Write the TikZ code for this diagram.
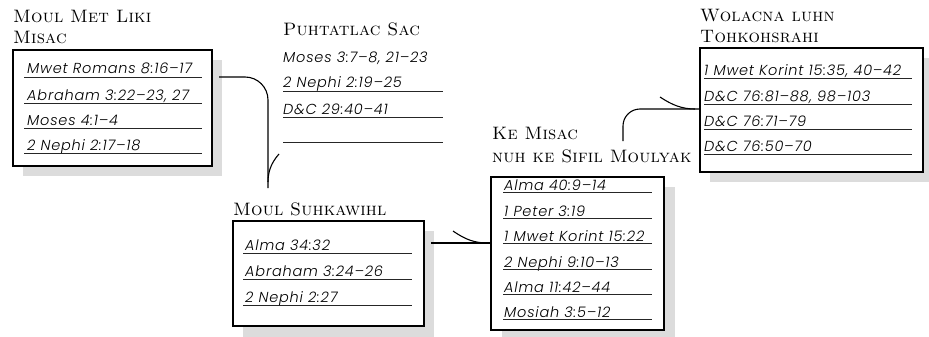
\documentclass[tikz,border=0pt]{standalone}
\usepackage{fontspec}
\newfontfamily\hand{Poppins Light}[ItalicFont={Poppins Light Italic}, LetterSpace=5.5]
\newfontfamily\titlefont{Latin Modern Roman}[SmallCapsFont={Latin Modern Roman Caps}, SmallCapsFeatures={LetterSpace=1}]
\definecolor{shadowgray}{HTML}{DCDCDC}
\tikzset{
  frame/.style={draw, line width=1.1pt, fill=white, inner sep=0pt},
  shade/.style={fill=shadowgray},
  title/.style={anchor=base west, inner sep=0pt, font=\fontsize{18}{21}\selectfont\titlefont\scshape, align=left},
  item/.style={anchor=base west, inner sep=0pt, font=\fontsize{14.5}{17}\selectfont\hand\itshape},
  uline/.style={line width=0.7pt, color=black!85},
  conn/.style={line width=1.1pt},
}
\begin{document}
\begin{tikzpicture}[x=1pt,y=-1pt]
\useasboundingbox (0,0) rectangle (929,337);
% ---------- box 1: Moul Met Liki Misac
\fill[shade] (23,60) rectangle (222,176);
\node[frame, minimum width=199pt, minimum height=116pt] (b1) at (112.5,108) {};
\node[title] (t1a) at (13,23) {Moul Met Liki};
\node[title] (t1b) at (13,44) {Misac};
\foreach \y/\t [count=\i] in {77/{Mwet Romans 8:16–17},103/{Abraham 3:22–23, 27},128/{Moses 4:1–4},153/{2 Nephi 2:17–18}}{
  \node[item] (i1\i) at (27,\y-3) {\t};
  \draw[uline] (24,\y) -- (202,\y);
}
% ---------- Puhtatlac Sac (no frame)
\node[title] (t2) at (283,36) {Puhtatlac Sac};
\node[item] (i21) at (283,63) {Moses 3:7–8, 21–23};
\foreach \y/\t [count=\i] in {91/{2 Nephi 2:19–25},117/{D\&C 29:40–41},142/{}}{
  \node[item] (i2\i) at (283,\y-3) {\t};
  \draw[uline] (283,\y) -- (443,\y);
}
% ---------- Moul Suhkawihl
\fill[shade] (243,231) rectangle (434,337);
\node[frame, minimum width=191pt, minimum height=105pt] (b3) at (328.5,273.5) {};
\node[title] (t3) at (233,215) {Moul Suhkawihl};
\foreach \y/\t [count=\i] in {253/{Alma 34:32},279/{Abraham 3:24–26},305/{2 Nephi 2:27}}{
  \node[item] (i3\i) at (245,\y-3) {\t};
  \draw[uline] (243,\y) -- (412,\y);
}
% ---------- Ke Misac nuh ke Sifil Moulyak
\fill[shade] (502,187) rectangle (675,337);
\node[frame, minimum width=173pt, minimum height=153pt] (b4) at (577.5,253.5) {};
\node[title] (t4a) at (492,139) {Ke Misac};
\node[title] (t4b) at (492,162) {nuh ke Sifil Moulyak};
\foreach \y/\t [count=\i] in {192/{Alma 40:9–14},218/{1 Peter 3:19},243/{1 Mwet Korint 15:22},269/{2 Nephi 9:10–13},294/{Alma 11:42–44},319/{Mosiah 3:5–12}}{
  \node[item] (i4\i) at (504,\y-1.5) {\t};
  \draw[uline] (503,\y) -- (652,\y);
}
% ---------- Wolacna luhn Tohkohsrahi
\fill[shade] (710,58) rectangle (933,182);
\node[frame, minimum width=223pt, minimum height=124pt] (b5) at (811.5,110) {};
\node[title] (t5a) at (700,22) {Wolacna luhn};
\node[title] (t5b) at (700,43) {Tohkohsrahi};
\foreach \y/\t [count=\i] in {78/{1 Mwet Korint 15:35, 40–42},104/{D\&C 76:81–88, 98–103},129/{D\&C 76:71–79},154/{D\&C 76:50–70}}{
  \node[item] (i5\i) at (704,\y-3) {\t};
  \draw[uline] (704,\y) -- (912,\y);
}
% ---------- connectors
\coordinate (c1s) at (219,77);
\coordinate (c1k) at (268,77);
\coordinate (c1e) at (268,188);
\draw[conn, rounded corners=23pt] (c1s) -- (c1k) -- (c1e);
\coordinate (c2s) at (279,154);
\coordinate (c2e) at (268,182);
\draw[conn] (c2s) .. controls (271,163) and (268,172) .. (c2e);
\coordinate (c3s) at (431,243);
\draw[conn] (c3s) -- (b4.west |- c3s);
\coordinate (c4s) at (453,231);
\coordinate (c4e) at (488,243);
\draw[conn] (c4s) .. controls (466,240) and (475,243) .. (c4e);
\coordinate (c5s) at (623,141);
\coordinate (c5k) at (623,109);
\draw[conn, rounded corners=17pt] (c5s) -- (c5k) -- (b5.west |- c5k);
\coordinate (c6s) at (660,97);
\coordinate (c6e) at (695,109);
\draw[conn] (c6s) .. controls (672,105) and (682,109) .. (c6e);
\end{tikzpicture}
\end{document}
